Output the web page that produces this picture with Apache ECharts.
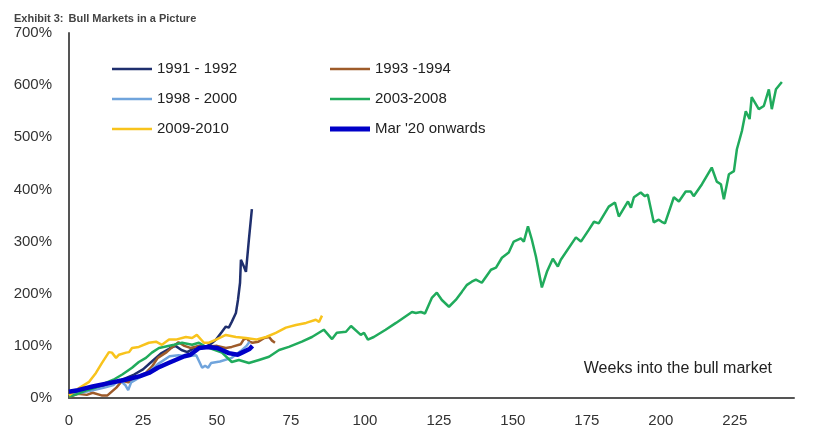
<!DOCTYPE html>
<html><head><meta charset="utf-8">
<script src="https://cdn.jsdelivr.net/npm/echarts@6/dist/echarts.min.js"></script>
<style>html,body{margin:0;padding:0;background:#fff}#c{width:821px;height:430px}</style>
</head><body><div id="c"></div>
<script>
const seriesNames = ["1991 - 1992", "1993 -1994", "1998 - 2000", "2003-2008", "2009-2010", "Mar '20 onwards"];
const xTicks = [0, 25, 50, 75, 100, 125, 150, 175, 200, 225];
const yTicks = [0, 100, 200, 300, 400, 500, 600, 700];

// [week, % gain]
const s1991 = [[0,8],[3,12],[6,15],[10,20],[15,28],[18,35],[22,45],[25,55],[28,70],[31,85],[34,95],[36,100],[38,92],[40,88],[42,95],[44,100],[46,97],[48,104],[49.7,112],[51.7,127],[53,137],[54,135],[55,146],[56.4,163],[57.1,188],[57.8,221],[58.1,265],[59.1,252],[59.8,242],[60.8,304],[61.8,362]];
const s1993 = [[0,2],[3,8],[6,6],[8,10],[11,5],[13,5],[16,20],[18,33],[20,30],[23,40],[26,48],[28,60],[30,77],[33,88],[35,98],[37,107],[39,100],[41,96],[44,100],[46,98],[50,100],[53,96],[55,98],[58,103],[59,112],[60,115],[61,108],[62,106],[64,108],[66,115],[67.6,117],[68.6,110],[69.6,106]];
const s1998 = [[0,5],[4,10],[8,15],[12,20],[15,25],[17,35],[19,25],[20,15],[21,30],[24,40],[27,50],[30,65],[34,80],[37,82],[40,80],[43,82],[44,70],[45,58],[46,62],[47,58],[48,67],[51,70],[55,77],[58,90],[60,100],[61,108]];
const s2003 = [[0,3],[3,8],[6,15],[9,20],[12,28],[15,35],[18,45],[21.3,58],[23.6,69],[26,77],[28,87],[30.4,96],[35.5,102],[38.2,106],[41.6,102],[43.9,106],[46.3,98],[51.7,87],[55,69],[57.4,73],[60.8,67],[64.2,73],[67.6,79],[71,92],[74.3,98],[78.7,108],[82.1,117],[86.1,131],[88.9,113],[90.5,125],[93.6,127],[95.3,138],[98.6,121],[99.7,125],[101,112],[103,117],[107,131],[110.5,144],[115.9,165],[117.2,163],[118.9,165],[120.3,162],[122.6,192],[124.3,202],[126,188],[128.4,175],[130.7,188],[132.8,204],[134.5,217],[136.1,223],[137.5,227],[139.5,221],[142.6,246],[144.3,250],[146.3,269],[148.6,279],[150.3,300],[152.7,306],[153.7,300],[155.1,329],[156.4,304],[157.8,271],[159.8,212],[161.5,242],[163.5,267],[165.2,252],[166.2,265],[171.3,308],[173,300],[175.7,323],[177.4,338],[179,335],[182.4,367],[184.5,375],[185.8,348],[188.9,377],[189.9,365],[190.9,385],[193.2,394],[194.6,387],[195.6,390],[197.6,337],[199.3,342],[200.3,338],[201.4,335],[204.4,385],[206.1,377],[208.4,396],[210.1,396],[211.1,387],[213.9,410],[217.2,442],[218.9,415],[220.3,410],[221.3,381],[223,429],[224.7,435],[225.7,477],[227.4,512],[228.7,550],[230,535],[230.7,577],[233.1,554],[234.8,560],[236.5,592],[237.5,554],[238.9,592],[240.9,606]];
const s2009 = [[0,5],[3.4,19],[6.8,31],[9.1,48],[11.1,67],[13.5,88],[14.5,87],[15.9,77],[16.9,83],[19.3,87],[20.3,88],[21.3,96],[23.6,98],[27,106],[29.4,108],[31.4,102],[33.8,112],[36.1,112],[39.5,117],[41.6,115],[43.2,121],[45.6,106],[47.3,106],[49.7,112],[53,121],[56.4,117],[59.8,115],[63.2,112],[66.6,117],[69.9,125],[73.3,135],[76.7,140],[80.1,144],[83.4,150],[84.5,146],[85.5,158]];
const s2020 = [[0,12],[3,15],[8,22],[13,28],[19,35],[24,42],[27,48],[30,58],[34,68],[39,80],[41,83],[44,96],[47,98],[50,96],[51.7,92],[54,86],[57,83],[58.8,88],[61,94],[62,100]];

const colors = ["#1f2f6e", "#9e5b2a", "#70a4dc", "#20ab5c", "#f8c31c", "#0000c8"];
const widths = [2.5, 2.5, 2.5, 2.5, 2.5, 4.5];
const allData = [s1991, s1993, s1998, s2003, s2009, s2020];

const thinIcon = 'path://M0,0M40,5M0,1.2H40V3.8H0Z';
const thickIcon = 'path://M0,0H40V5H0Z';
const legendItem = i => ({ name: seriesNames[i], icon: i === 5 ? thickIcon : thinIcon });

const chart = echarts.init(document.getElementById('c'), null, {renderer: 'canvas'});
const font = 'Liberation Sans, Arial, sans-serif';
const legendText = {fontSize: 15, color: '#222', fontFamily: font, lineHeight: 18};
chart.setOption({
  animation: false,
  backgroundColor: '#fff',
  title: {
    text: '{b|Exhibit 3:} {n|Bull Markets in a Picture}',
    left: 9, top: 5,
    textStyle: { rich: {
      b: {fontSize: 11, fontWeight: 'bold', color: '#444', fontFamily: font},
      n: {fontSize: 11, color: '#444', fontFamily: font}
    }}
  },
  grid: { left: 69, right: 27, top: 33, bottom: 32, containLabel: false },
  legend: [
    { orient: 'vertical', left: 112, top: 60, padding: 0, itemWidth: 40, itemHeight: 5, itemGap: 12,
      symbolKeepAspect: false,
      data: [legendItem(0), legendItem(2), legendItem(4)], textStyle: legendText },
    { orient: 'vertical', left: 330, top: 60, padding: 0, itemWidth: 40, itemHeight: 5, itemGap: 12,
      symbolKeepAspect: false,
      data: [legendItem(1), legendItem(3), legendItem(5)], textStyle: legendText }
  ],
  xAxis: {
    type: 'value', min: 0, max: 245, interval: 25,
    axisLine: {show: true, lineStyle: {color: '#555', width: 2}},
    axisTick: {show: false}, splitLine: {show: false},
    axisLabel: { fontSize: 15, color: '#333', fontFamily: font, margin: 15,
      formatter: v => xTicks.includes(v) ? String(v) : '' }
  },
  yAxis: {
    type: 'value', min: 0, max: 700, interval: 100,
    axisLine: {show: true, lineStyle: {color: '#555', width: 2}},
    axisTick: {show: false}, splitLine: {show: false},
    axisLabel: { fontSize: 15, color: '#333', fontFamily: font, margin: 17,
      formatter: v => yTicks.includes(v) ? v + '%' : '' }
  },
  graphic: [{
    type: 'text', right: 49, top: 361,
    style: {text: 'Weeks into the bull market', fontSize: 16, fill: '#222', fontFamily: font}
  }],
  series: allData.map((d, i) => ({
    name: seriesNames[i], type: 'line', data: d, symbol: 'none', smooth: false,
    z: i === 5 ? 5 : 2,
    lineStyle: {color: colors[i], width: widths[i]},
    itemStyle: {color: colors[i]}
  }))
});
</script></body></html>
